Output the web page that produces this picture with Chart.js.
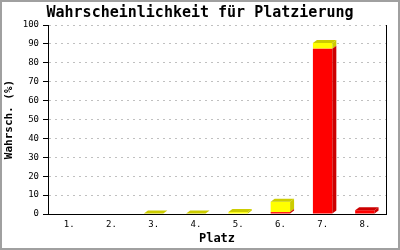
<!DOCTYPE html>
<html>
<head>
<meta charset="utf-8">
<script src="https://cdn.jsdelivr.net/npm/chart.js@4/dist/chart.umd.min.js"></script>
<style>
html,body{margin:0;padding:0;background:#fff;}
#wrap{width:400px;height:250px;position:relative;}
</style>
</head>
<body>
<div id="wrap"><canvas id="c" width="400" height="250"></canvas></div>
<script>
const categories = ["1.", "2.", "3.", "4.", "5.", "6.", "7.", "8."];
const redValues = [0, 0, 0, 0, 0, 1, 87.5, 2];
const yellowValues = [0, 0, 0.3, 0.3, 1, 5.5, 3, 0];
const yTicks = [0, 10, 20, 30, 40, 50, 60, 70, 80, 90, 100];

const titleText = "Wahrscheinlichkeit für Platzierung";
const yTitle = "Wahrsch. (%)";
const xTitle = "Platz";

const MONO = "'DejaVu Sans Mono', 'Liberation Mono', monospace";
const DX = 4, DY = 3;
const darkColors = ["#cc0000", "#cccc00"];

const frame = {
  id: 'frame',
  beforeDraw(chart) {
    const ctx = chart.ctx;
    ctx.save();
    ctx.fillStyle = '#ffffff';
    ctx.fillRect(0, 0, chart.width, chart.height);
    ctx.strokeStyle = '#a0a0a0';
    ctx.lineWidth = 2;
    ctx.strokeRect(1, 1, chart.width - 2, chart.height - 2);
    ctx.restore();
  }
};

const bars3d = {
  id: 'bars3d',
  afterDatasetDraw(chart, args) {
    const ctx = chart.ctx;
    const meta = args.meta;
    const di = args.index;
    const datasets = chart.data.datasets;
    ctx.save();
    ctx.fillStyle = darkColors[di];
    meta.data.forEach((el, i) => {
      const v = datasets[di].data[i];
      if (!v) return;
      const p = el.getProps(['x', 'y', 'base', 'width'], true);
      const left = p.x - p.width / 2, right = p.x + p.width / 2;
      const top = Math.min(p.y, p.base), bottom = Math.max(p.y, p.base);
      // side face
      ctx.beginPath();
      ctx.moveTo(right, bottom);
      ctx.lineTo(right + DX, bottom - DY);
      ctx.lineTo(right + DX, top - DY);
      ctx.lineTo(right, top);
      ctx.closePath();
      ctx.fill();
      // top face only for topmost non-zero segment
      let topmost = true;
      for (let k = di + 1; k < datasets.length; k++) {
        if (datasets[k].data[i]) topmost = false;
      }
      if (topmost) {
        ctx.beginPath();
        ctx.moveTo(left, top);
        ctx.lineTo(left + DX, top - DY);
        ctx.lineTo(right + DX, top - DY);
        ctx.lineTo(right, top);
        ctx.closePath();
        ctx.fill();
      }
    });
    ctx.restore();
  }
};

new Chart(document.getElementById('c'), {
  type: 'bar',
  data: {
    labels: categories,
    datasets: [
      { data: redValues, backgroundColor: '#ff0000', borderWidth: 0, barPercentage: 0.46, categoryPercentage: 1 },
      { data: yellowValues, backgroundColor: '#ffff00', borderWidth: 0, barPercentage: 0.46, categoryPercentage: 1 }
    ]
  },
  options: {
    responsive: false,
    animation: false,
    devicePixelRatio: 1,
    layout: { padding: 0 },
    plugins: {
      legend: { display: false },
      tooltip: { enabled: false },
      title: {
        display: true,
        text: titleText,
        color: '#000',
        font: { family: MONO, size: 15, weight: 'bold', lineHeight: 1.2 },
        padding: { top: 4, bottom: 3 }
      }
    },
    scales: {
      x: {
        stacked: true,
        grid: { display: false, drawTicks: false },
        border: { display: true, color: '#000', width: 1 },
        ticks: { color: '#000', font: { family: MONO, size: 9 }, padding: 5, maxRotation: 0, autoSkip: false },
        title: { display: true, text: xTitle, color: '#000', font: { family: MONO, size: 12, weight: 'bold', lineHeight: 1 }, padding: { top: 0, bottom: 5 } },
        afterFit(s) { s.height = 36; }
      },
      y: {
        stacked: true,
        min: 0,
        max: 100,
        afterBuildTicks(s) { s.ticks = yTicks.map(v => ({ value: v })); },
        grid: { color: '#c0c0c0', tickColor: '#000', tickLength: 5, tickBorderDash: [], lineWidth: 1 },
        border: { display: true, color: '#000', width: 1, dash: [2, 4] },
        ticks: { color: '#000', font: { family: MONO, size: 9 }, padding: 4 },
        title: { display: true, text: yTitle, color: '#000', font: { family: MONO, size: 11, weight: 'bold', lineHeight: 1 }, padding: { top: 4, bottom: 0 } },
        afterFit(s) { s.width = 48; }
      },
      y2: {
        position: 'right',
        min: 0,
        max: 100,
        grid: { display: false, drawTicks: false },
        border: { display: true, color: '#000', width: 1 },
        ticks: { display: false },
        afterFit(s) { s.width = 14; }
      }
    }
  },
  plugins: [frame, bars3d]
});
</script>
</body>
</html>
